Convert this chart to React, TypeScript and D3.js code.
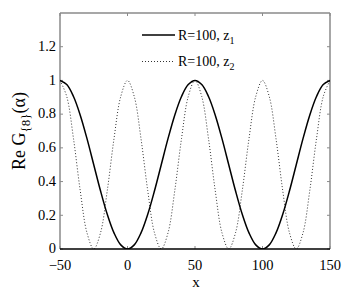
import React from "react";
import * as d3 from "d3";

const xs = [-50,-45,-40,-35,-30,-25,-20,-15,-10,-5,0,5,10,15,20,25,30,35,40,45,50,55,60,65,70,75,80,85,90,95,100,105,110,115,120,125,130,135,140,145,150];
const z1 = [1,0.9755,0.9045,0.7939,0.6545,0.5,0.3455,0.2061,0.0955,0.0245,0,0.0245,0.0955,0.2061,0.3455,0.5,0.6545,0.7939,0.9045,0.9755,1,0.9755,0.9045,0.7939,0.6545,0.5,0.3455,0.2061,0.0955,0.0245,0,0.0245,0.0955,0.2061,0.3455,0.5,0.6545,0.7939,0.9045,0.9755,1];
const z2 = [1,0.9045,0.6545,0.3455,0.0955,0,0.0955,0.3455,0.6545,0.9045,1,0.9045,0.6545,0.3455,0.0955,0,0.0955,0.3455,0.6545,0.9045,1,0.9045,0.6545,0.3455,0.0955,0,0.0955,0.3455,0.6545,0.9045,1,0.9045,0.6545,0.3455,0.0955,0,0.0955,0.3455,0.6545,0.9045,1];
const xTicks = [-50, 0, 50, 100, 150];
const yTicks = [0, 0.2, 0.4, 0.6, 0.8, 1, 1.2];

const W = 349, H = 291;
const L = 60, R = 330, T = 13, B = 249;

export default function App() {
  const x = d3.scaleLinear().domain([-50, 150]).range([L, R]);
  const y = d3.scaleLinear().domain([0, 1.4]).range([B, T]);
  const line = d3.line<[number, number]>()
    .x(d => x(d[0])).y(d => y(d[1]))
    .curve(d3.curveCatmullRom.alpha(0.5));
  const d1 = line(xs.map((v, i) => [v, z1[i]]) as [number, number][]) || "";
  const d2 = line(xs.map((v, i) => [v, z2[i]]) as [number, number][]) || "";
  const gray = "#8a8a8a";
  const font = "'Liberation Serif', 'Times New Roman', serif";
  const fmt = (v: number) => (v === 0 ? "0" : v === 1 ? "1" : String(v));
  return (
    <svg width={W} height={H} style={{ position: "absolute", left: 0, top: 0, background: "#fff" }}>
      <rect x={0} y={0} width={W} height={H} fill="#fff" />
      <defs>
        <clipPath id="plot"><rect x={L} y={T} width={R - L} height={B - T} /></clipPath>
      </defs>
      {/* frame */}
      <line x1={L} y1={T} x2={R} y2={T} stroke={gray} strokeWidth={1.5} />
      <line x1={L} y1={T} x2={L} y2={B} stroke={gray} strokeWidth={1.5} />
      <line x1={R} y1={T} x2={R} y2={B} stroke={gray} strokeWidth={1.5} />
      {/* ticks */}
      {xTicks.map(t => (
        <g key={"xt" + t}>
          <line x1={x(t)} x2={x(t)} y1={B} y2={B - 3} stroke={gray} strokeWidth={1} />
          <line x1={x(t)} x2={x(t)} y1={T} y2={T + 3} stroke={gray} strokeWidth={1} />
          <text x={x(t)} y={270} fontFamily={font} fontSize={14.5} textAnchor="middle" fill="#000">
            {t < 0 ? "\u2212" + Math.abs(t) : t}
          </text>
        </g>
      ))}
      {yTicks.map(t => (
        <g key={"yt" + t}>
          <line x1={L} x2={L + 3} y1={y(t)} y2={y(t)} stroke={gray} strokeWidth={1} />
          <line x1={R} x2={R - 3} y1={y(t)} y2={y(t)} stroke={gray} strokeWidth={1} />
          <text x={56} y={y(t)} dy="0.3em" fontFamily={font} fontSize={14.5} textAnchor="end" fill="#000">
            {fmt(t)}
          </text>
        </g>
      ))}
      <g clipPath="url(#plot)">
        <path d={d2} fill="none" stroke="#333" strokeWidth={1} strokeDasharray="1 2" />
        <path d={d1} fill="none" stroke="#000" strokeWidth={1.5} />
      </g>
      <line x1={L} y1={B} x2={R} y2={B} stroke="#000" strokeWidth={1.5} />
      {/* legend */}
      <line x1={142} x2={175} y1={35} y2={35} stroke="#000" strokeWidth={1.5} />
      <text x={178} y={40} fontFamily={font} fontSize={14} fill="#000">
        R=100, z<tspan dy={4} fontSize={10}>1</tspan>
      </text>
      <line x1={142} x2={175} y1={61.5} y2={61.5} stroke="#333" strokeWidth={1} strokeDasharray="1 2" />
      <text x={178} y={66} fontFamily={font} fontSize={14} fill="#000">
        R=100, z<tspan dy={4} fontSize={10}>2</tspan>
      </text>
      {/* axis labels */}
      <text x={196} y={287} fontFamily={font} fontSize={15} textAnchor="middle" fill="#000">x</text>
      <text transform="translate(25,131) rotate(-90)" fontFamily={font} fontSize={18} textAnchor="middle" fill="#000">
        Re G<tspan dy={5} fontSize={13}>{"{8}"}</tspan><tspan dy={-5}>(α)</tspan>
      </text>
    </svg>
  );
}
